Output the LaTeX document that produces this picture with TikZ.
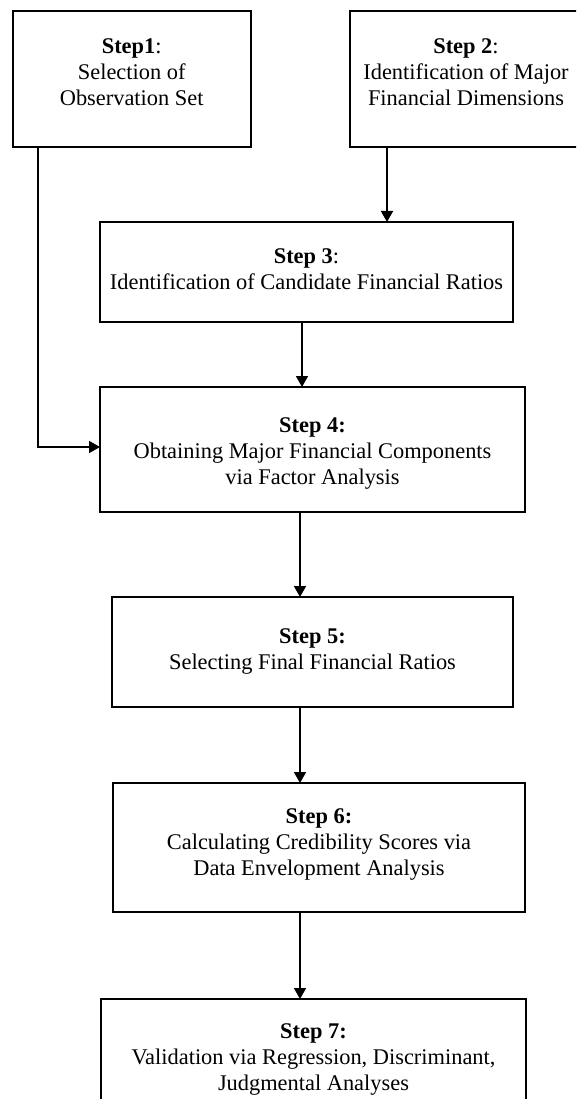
\documentclass[tikz,border=0pt]{standalone}
\usepackage{fontspec}
\setmainfont{Liberation Serif}
\usetikzlibrary{arrows.meta}
\begin{document}
\begin{tikzpicture}[x=1pt,y=-1pt,
  box/.style={draw=black,line width=1.7pt,rectangle,inner sep=0pt,outer sep=0pt},
  txt/.style={align=center,inner sep=0pt,font=\fontsize{22.4}{26}\selectfont},
  arr/.style={line width=1.6pt,-{Triangle[length=11pt,width=12pt]}}]
\clip (0,0) rectangle (576,1099);
\fill[white] (0,0) rectangle (576,1099);
% boxes
\node[box,minimum width=238pt,minimum height=136pt] (b1) at (131.7,78.7) {};
\node[box,minimum width=228pt,minimum height=136pt] (b2) at (464,78.7) {};
\node[box,minimum width=413pt,minimum height=100pt] (b3) at (306.5,272) {};
\node[box,minimum width=425pt,minimum height=125pt] (b4) at (312.5,449.5) {};
\node[box,minimum width=401pt,minimum height=110pt] (b5) at (312.5,652) {};
\node[box,minimum width=412pt,minimum height=129pt] (b6) at (319,847.5) {};
\node[box,minimum width=425pt,minimum height=116pt] (b7) at (313.5,1057) {};
% texts
\node[txt] (t1) at (131.7,72) {\textbf{Step1}:\\Selection of\\Observation Set};
\node[txt] (t2) at (466,72) {\textbf{Step 2}:\\Identification of Major\\Financial Dimensions};
\node[txt] (t3) at (306.5,269) {\textbf{Step 3}:\\Identification of Candidate Financial Ratios};
\node[txt] (t4) at (312.5,453) {\textbf{Step 4:}\\Obtaining Major Financial Components\\via Factor Analysis};
\node[txt] (t5) at (312.5,651) {\textbf{Step 5:}\\Selecting Final Financial Ratios};
\node[txt] (t6) at (319,844.5) {\textbf{Step 6:}\\Calculating Credibility Scores via\\Data Envelopment Analysis};
\node[txt] (t7) at (313.5,1059) {\textbf{Step 7:}\\Validation via Regression, Discriminant,\\Judgmental Analyses};
% connector helpers
\coordinate (c1) at (37.7,447);
\coordinate (c2) at (387,0);
\coordinate (c3) at (302,0);
\coordinate (c4) at (300,0);
% connectors
\draw[arr] (b1.south -| c1) -- (c1) -- (c1 -| b4.west);
\draw[arr] (b2.south -| c2) -- (b3.north -| c2);
\draw[arr] (b3.south -| c3) -- (b4.north -| c3);
\draw[arr] (b4.south -| c4) -- (b5.north -| c4);
\draw[arr] (b5.south -| c4) -- (b6.north -| c4);
\draw[arr] (b6.south -| c4) -- (b7.north -| c4);
\end{tikzpicture}
\end{document}
